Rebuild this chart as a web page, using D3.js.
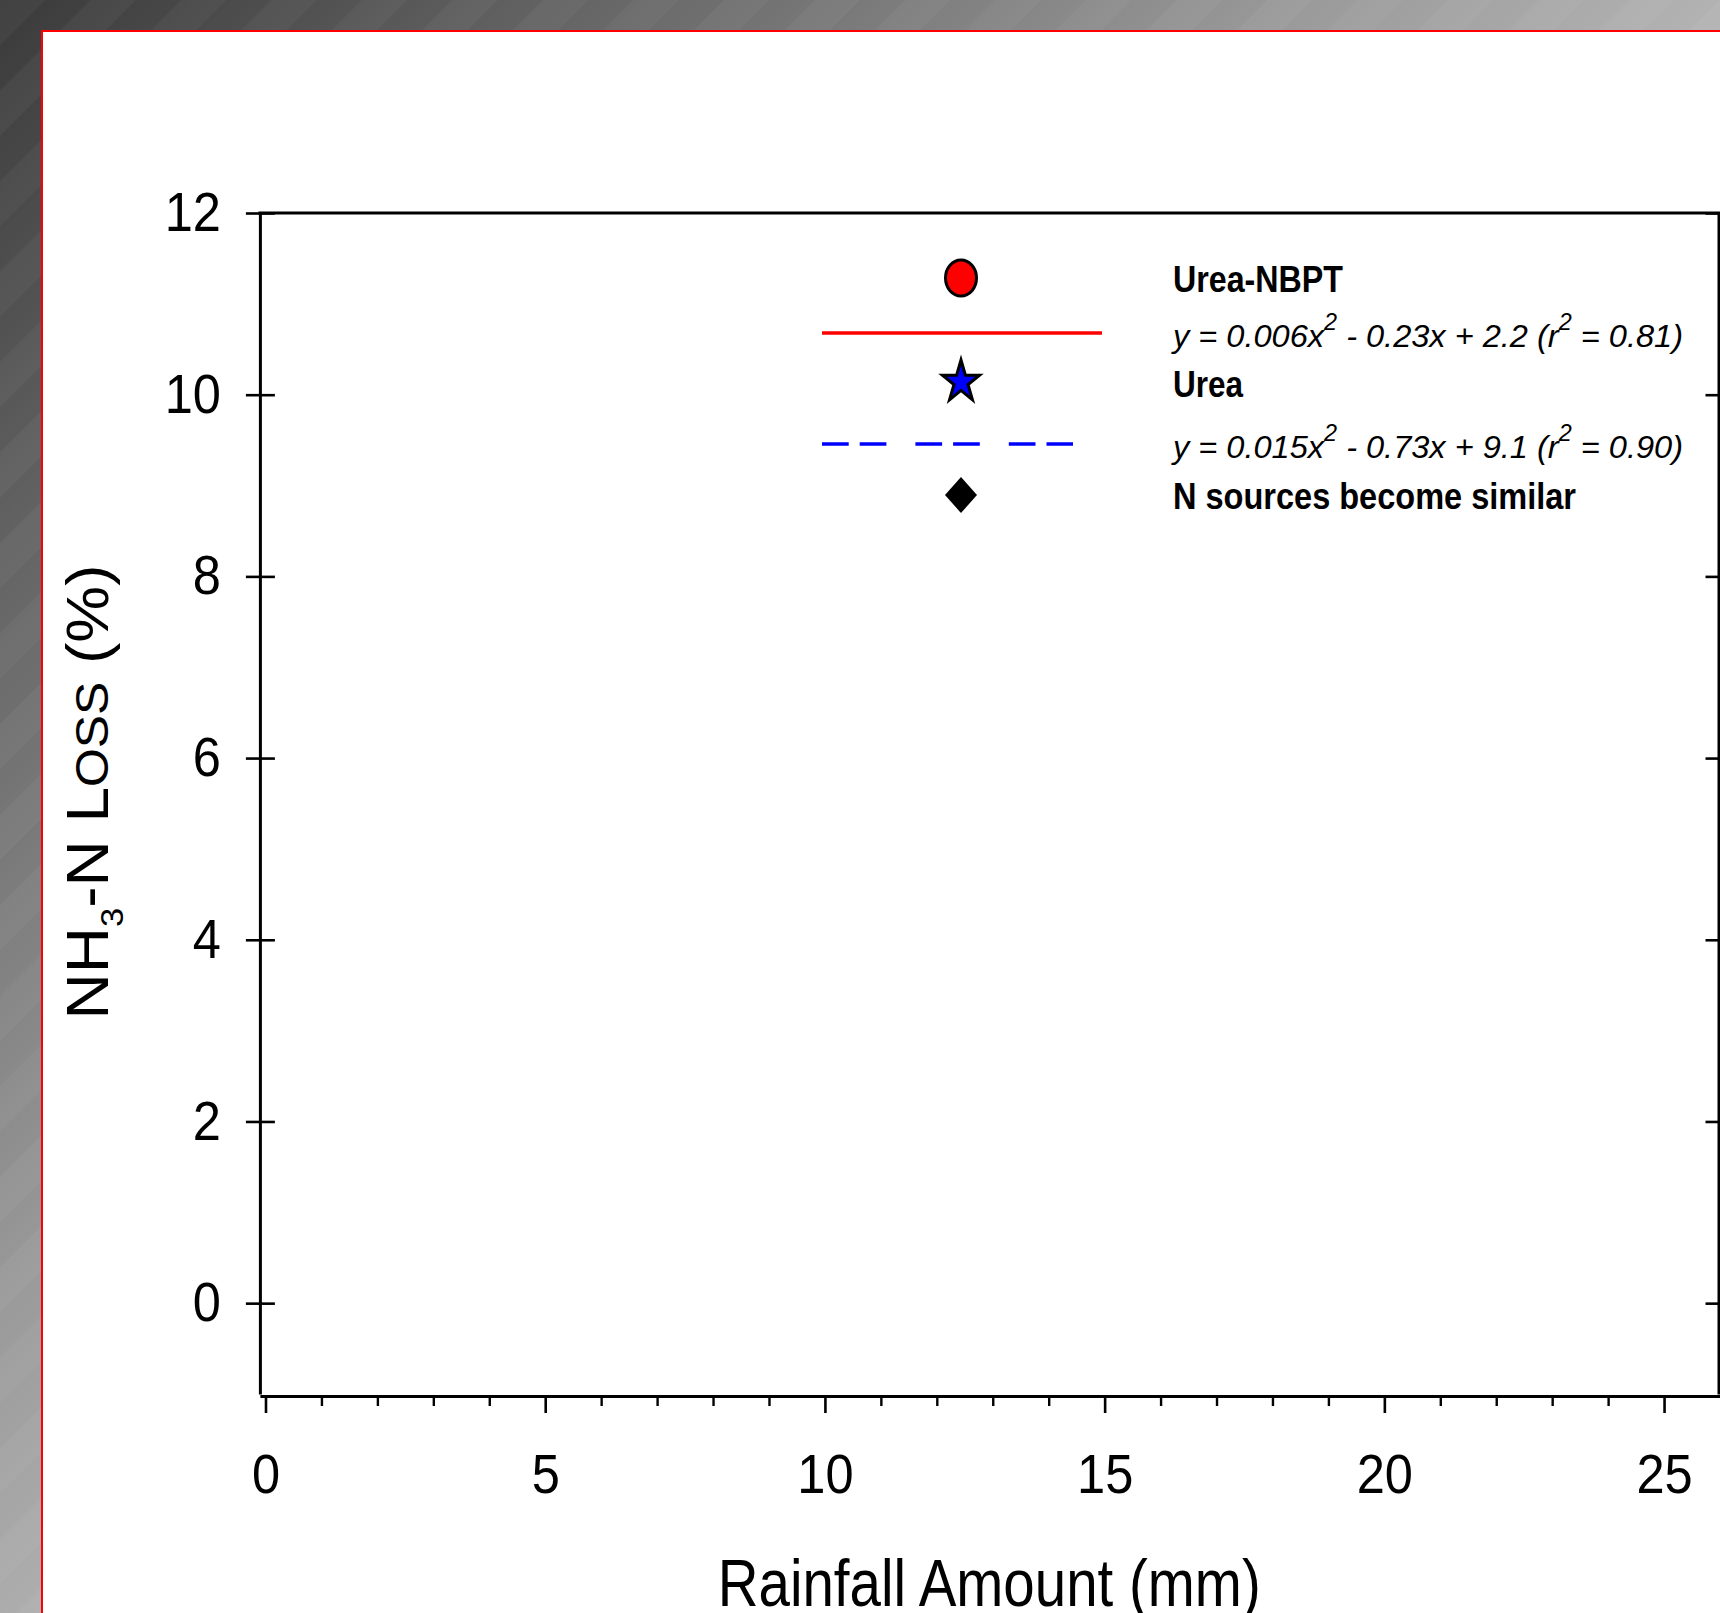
<!DOCTYPE html>
<html lang="en">
<head>
<meta charset="UTF-8">
<title>NH3-N Loss vs Rainfall Amount</title>
<script src="https://d3js.org/d3.v7.min.js"></script>
<style>
  html, body { margin: 0; padding: 0; overflow: hidden; }
  svg { display: block; font-family: Arial, "Liberation Sans", sans-serif; }
</style>
</head>
<body>
<svg width="1720" height="1613"></svg>
<script>
// axis ticks
const xTicks = [0, 5, 10, 15, 20, 25];
const xMinorTicks = [1, 2, 3, 4, 6, 7, 8, 9, 11, 12, 13, 14, 16, 17, 18, 19, 21, 22, 23, 24];
const yTicks = [0, 2, 4, 6, 8, 10, 12];

// series shown in the legend
const seriesNames = ["Urea-NBPT", "Urea"];
const seriesColors = ["#ff0000", "#0000ff"];
const fitA = [0.006, 0.015];
const fitB = [-0.23, -0.73];
const fitC = [2.2, 9.1];
const fitR2 = [0.81, 0.90];
const similarLabel = "N sources become similar";

const W = 1720, H = 1613;
const svg = d3.select("svg");
const defs = svg.append("defs");

// slide background
const grad = defs.append("linearGradient").attr("id", "bg")
    .attr("gradientUnits", "userSpaceOnUse")
    .attr("x1", 0).attr("y1", 0).attr("x2", 860).attr("y2", 860);
[[0, "#3a3a3a"], [0.23, "#575757"], [0.76, "#9a9a9a"], [1, "#b2b2b2"]].forEach(s =>
    grad.append("stop").attr("offset", s[0]).attr("stop-color", s[1]));
const pat = defs.append("pattern").attr("id", "stripes")
    .attr("patternUnits", "userSpaceOnUse")
    .attr("width", 64).attr("height", 64)
    .attr("patternTransform", "rotate(45)");
pat.append("rect").attr("width", 32).attr("height", 64).attr("fill", "#fff").attr("opacity", 0.035);

svg.append("rect").attr("width", W).attr("height", H).attr("fill", "url(#bg)");
svg.append("rect").attr("width", W).attr("height", H).attr("fill", "url(#stripes)");

// white panel with red edge
svg.append("rect").attr("x", 41).attr("y", 30).attr("width", W - 41).attr("height", H - 30).attr("fill", "#fff");
svg.append("path").attr("d", `M42,${H}V31H${W}`).attr("fill", "none").attr("stroke", "#f00").attr("stroke-width", 2);

// scales
const x = d3.scaleLinear().domain([-0.1, 26]).range([259.9, 1720]);
const y = d3.scaleLinear().domain([-1, 12]).range([1394, 213]);
const xAxisY = 1396;
const rightX = 1718.5;

function styleAxis(g, size) {
    g.attr("font-family", "Arial, 'Liberation Sans', sans-serif").attr("font-size", size);
    g.select(".domain").attr("stroke", "#000").attr("stroke-width", 3);
    g.selectAll(".tick line").attr("stroke", "#000").attr("stroke-width", 2.6);
    g.selectAll(".tick text").attr("fill", "#000");
}

// x axis
const gx = svg.append("g").attr("transform", `translate(0,${xAxisY})`)
    .call(d3.axisBottom(x).tickValues(xTicks).tickSize(17).tickSizeOuter(0).tickPadding(41));
styleAxis(gx, 55);
gx.selectAll(".tick text").attr("transform", "scale(0.92,1)");
svg.append("g").attr("transform", `translate(0,${xAxisY})`)
    .call(d3.axisBottom(x).tickValues(xMinorTicks).tickSize(10).tickFormat(""))
    .call(g => g.select(".domain").remove())
    .call(g => g.selectAll(".tick line").attr("stroke", "#000").attr("stroke-width", 2.4));

// left y axis, ticks cross the axis line
const gy = svg.append("g").attr("transform", `translate(${x(-0.1)},0)`)
    .call(d3.axisLeft(y).tickValues(yTicks).tickSize(14).tickSizeOuter(0).tickPadding(26));
styleAxis(gy, 55);
gy.selectAll(".tick text").attr("x", -39 / 0.92).attr("transform", "scale(0.92,1)");
svg.append("g").attr("transform", `translate(${x(-0.1)},0)`)
    .call(d3.axisRight(y).tickValues(yTicks).tickSize(15).tickFormat(""))
    .call(g => g.select(".domain").remove())
    .call(g => g.selectAll(".tick line").attr("stroke", "#000").attr("stroke-width", 2.6));

// right frame with inward ticks, top frame
svg.append("g").attr("transform", `translate(${rightX},0)`)
    .call(d3.axisLeft(y).tickValues(yTicks).tickSize(13).tickSizeOuter(0).tickFormat(""))
    .call(g => styleAxis(g, 10));
svg.append("line")
    .attr("x1", x(-0.1) - 1.5).attr("x2", W)
    .attr("y1", y(12)).attr("y2", y(12))
    .attr("stroke", "#000").attr("stroke-width", 3);

// axis titles
const xt = svg.append("text")
    .attr("x", (x(-0.1) + rightX) / 2).attr("y", 1606)
    .attr("text-anchor", "middle").attr("font-size", 67)
    .text("Rainfall Amount (mm)");
xt.attr("textLength", 543).attr("lengthAdjust", "spacingAndGlyphs");

const yt = svg.append("text")
    .attr("transform", "translate(108,792) rotate(-90)")
    .attr("text-anchor", "middle").attr("font-size", 59);
yt.append("tspan").text("NH");
yt.append("tspan").attr("font-size", 32).attr("dy", 15).text("3");
yt.append("tspan").attr("dy", -15).text("-N L");
yt.append("tspan").attr("font-variant", "small-caps").attr("font-size", 66).text("oss");
yt.append("tspan").text(" (%)");
yt.attr("textLength", 455).attr("lengthAdjust", "spacingAndGlyphs");

// legend
const fmt = v => String(Math.abs(v));
function eqParts(i) {
    return [
        { t: `y = ${fmt(fitA[i])}x` },
        { t: "2", sup: true },
        { t: ` ${fitB[i] < 0 ? "-" : "+"} ${fmt(fitB[i])}x + ${fmt(fitC[i])} (r` },
        { t: "2", sup: true },
        { t: ` = ${fitR2[i].toFixed(2)})` }
    ];
}
const legendRows = [
    { mark: "circle", color: seriesColors[0], parts: [{ t: seriesNames[0] }], bold: true, width: 170 },
    { mark: "line", color: seriesColors[0], parts: eqParts(0), width: 510, len: 280 },
    { mark: "star", color: seriesColors[1], parts: [{ t: seriesNames[1] }], bold: true, width: 70 },
    { mark: "dash", color: seriesColors[1], parts: eqParts(1), width: 510, len: 251 },
    { mark: "diamond", color: "#000", parts: [{ t: similarLabel }], bold: true, width: 403 }
];

const markX = 961, lineX0 = 822, textX = 1173;
const rowTop = [278, 333, 383, 444, 495];

const lg = svg.append("g");
legendRows.forEach((r, i) => {
    const cy = rowTop[i];
    if (r.mark === "circle") {
        lg.append("path")
            .attr("d", d3.symbol(d3.symbolCircle, Math.PI * 15.5 * 15.5)())
            .attr("transform", `translate(${markX},${cy}) scale(1,1.16)`)
            .attr("fill", r.color).attr("stroke", "#000").attr("stroke-width", 3)
            .attr("vector-effect", "non-scaling-stroke");
    } else if (r.mark === "star") {
        lg.append("path")
            .attr("d", d3.symbol(d3.symbolStar, 427)())
            .attr("transform", `translate(${markX},${cy - 1}) scale(1,1.13)`)
            .attr("fill", r.color).attr("stroke", "#000").attr("stroke-width", 3)
            .attr("stroke-linejoin", "miter")
            .attr("vector-effect", "non-scaling-stroke");
    } else if (r.mark === "diamond") {
        lg.append("path")
            .attr("d", d3.symbol(d3.symbolSquare, 512)())
            .attr("transform", `translate(${markX},${cy}) scale(1,1.125) rotate(45)`)
            .attr("fill", r.color);
    } else {
        lg.append("line")
            .attr("x1", lineX0).attr("x2", lineX0 + r.len)
            .attr("y1", cy).attr("y2", cy)
            .attr("stroke", r.color).attr("stroke-width", 3.3)
            .attr("stroke-dasharray", r.mark === "dash" ? "26.7 11 26.7 29" : null);
    }
    const t = lg.append("text")
        .attr("x", textX).attr("y", cy + (r.bold ? 13.5 : 14))
        .attr("font-size", r.bold ? 37.5 : 32)
        .attr("font-weight", r.bold ? "bold" : "normal")
        .attr("font-style", r.bold ? "normal" : "italic");
    r.parts.forEach(p => {
        if (p.sup) {
            t.append("tspan").attr("font-size", 23).attr("dy", -17).text(p.t);
        } else {
            const s = t.append("tspan").text(p.t);
            if (t.selectAll("tspan").size() > 1) s.attr("dy", 17);
        }
    });
    t.attr("textLength", r.width).attr("lengthAdjust", "spacingAndGlyphs");
});
</script>
</body>
</html>
